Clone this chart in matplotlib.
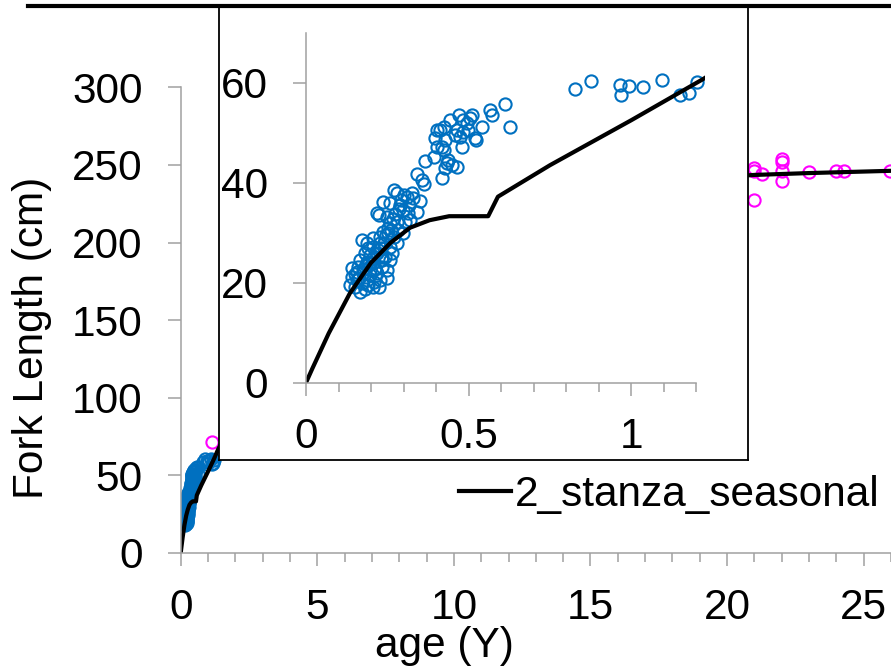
import matplotlib
matplotlib.use('Agg')
import matplotlib.pyplot as plt
from matplotlib.lines import Line2D
from matplotlib.ticker import MultipleLocator

plt.rcParams['font.family'] = ['Liberation Sans', 'DejaVu Sans']
plt.rcParams['font.size'] = 30.5

# juvenile fish (age in years, fork length in cm)
juv_age = [0.612, 0.628, 0.566, 0.571, 0.541, 0.510, 0.505, 0.469, 0.443, 0.484,
           0.494, 0.520, 0.523, 0.474, 0.458, 0.464, 0.484, 0.499, 0.423, 0.412,
           0.402, 0.397, 0.428, 0.417, 0.402, 0.423, 0.479, 0.464, 0.448, 0.433,
           0.428, 0.438, 0.392, 0.366, 0.341, 0.356, 0.364, 0.417,
           0.269, 0.279, 0.310, 0.330, 0.351, 0.238, 0.258, 0.289, 0.217, 0.223,
           0.248, 0.299, 0.315, 0.341, 0.258, 0.279, 0.305, 0.320, 0.299, 0.284,
           0.269, 0.253, 0.238, 0.228, 0.207, 0.171, 0.187, 0.207, 0.228, 0.258,
           0.279, 0.182, 0.197, 0.217, 0.243, 0.258, 0.166, 0.187, 0.207, 0.233,
           0.248, 0.141, 0.156, 0.176, 0.197, 0.217, 0.248, 0.141, 0.156, 0.171,
           0.192, 0.207, 0.223, 0.151, 0.166, 0.135, 0.187, 0.228, 0.233, 0.197,
           0.161,
           0.150, 0.162, 0.175, 0.183, 0.195, 0.205, 0.212, 0.222, 0.230, 0.240,
           0.246, 0.252, 0.262, 0.268, 0.275, 0.285, 0.292, 0.300, 0.318, 0.325,
           0.210, 0.180, 0.235, 0.190, 0.265,
           0.826, 0.876, 0.966, 0.992, 0.968, 1.035, 1.094, 1.149, 1.176, 1.202]
juv_len = [55.7, 51.2, 54.5, 53.5, 51.1, 53.5, 52.9, 53.5, 52.5, 52.5,
           51.9, 48.9, 48.5, 49.2, 49.5, 50.5, 50.2, 50.5, 51.2, 50.5,
           50.5, 48.9, 48.5, 47.2, 47.2, 46.5, 47.2, 43.2, 43.5, 43.9,
           42.9, 44.5, 45.2, 44.4, 41.7, 40.5, 39.7, 40.9,
           38.5, 37.9, 37.2, 36.9, 36.3, 36.2, 35.9, 35.5, 33.9, 33.5,
           33.2, 34.5, 33.9, 34.2, 31.9, 32.2, 32.2, 32.5, 29.9, 30.5,
           29.2, 29.9, 30.2, 29.2, 28.9, 28.5, 27.9, 27.2, 27.9, 27.2,
           27.9, 25.9, 25.5, 25.9, 25.2, 24.5, 24.5, 24.2, 23.9, 23.2,
           22.5, 22.9, 22.2, 21.9, 21.5, 21.9, 20.9, 21.2, 20.5, 19.9,
           19.5, 19.2, 19.2, 19.2, 18.2, 19.5, 20.5, 20.5, 24.5, 22.5,
           23.2,
           21.8, 20.9, 22.8, 23.5, 24.0, 25.0, 23.0, 26.5, 27.0, 28.0,
           29.5, 31.0, 30.5, 32.8, 33.8, 34.8, 36.5, 37.5, 35.5, 38.0,
           20.2, 18.8, 25.2, 27.0, 26.0,
           58.7, 60.3, 59.5, 59.3, 57.5, 59.1, 60.5, 57.5, 57.9, 60.2]

# adult fish
adult_age = [1.13, 20.98, 20.98, 20.98, 21.27, 22.0, 22.0, 22.0, 22.0,
             22.99, 23.98, 24.27, 25.95]
adult_len = [71.7, 248.3, 246.2, 227.5, 244.0, 253.7, 251.7, 246.4, 239.5,
             245.3, 246.3, 246.3, 246.3]

# fitted growth curve, 2 stanza seasonal model
fit_age = [0, 0.02, 0.07, 0.135, 0.2, 0.26, 0.32, 0.38, 0.44, 0.56, 0.59,
           0.75, 1.0, 1.22, 1.37, 2, 3, 4, 5, 6, 8, 10, 12, 14, 16, 18,
           20, 21, 23, 26.5]
fit_len = [0, 2.9, 9.9, 17.9, 24.0, 28.0, 31.0, 32.5, 33.3, 33.3, 37.2,
           43.5, 52.5, 60.7, 66.8, 88, 115, 137, 155, 170, 192, 208, 220,
           229, 235, 239, 242.5, 243.6, 244.8, 246.5]

W, H = 891, 668
BLUE = '#0070C0'
PINK = '#FF00FF'
GREY = '#A0A0A0'

fig = plt.figure(figsize=(W / 100, H / 100), dpi=100)


def style_axis(ax):
    for s in ('top', 'right'):
        ax.spines[s].set_visible(False)
    for s in ('left', 'bottom'):
        ax.spines[s].set_color(GREY)
        ax.spines[s].set_linewidth(1.1)
    ax.tick_params(which='both', direction='out', color=GREY, width=1.1)
    ax.tick_params(axis='y', which='major', length=9.5, pad=18)
    ax.tick_params(axis='x', which='major', length=9, pad=16)
    ax.tick_params(axis='x', which='minor', length=6.3)


mk = dict(marker='o', ls='none', mfc='none', ms=8.8, mew=1.5)

# main panel
ax = fig.add_axes([180.7 / W, 1 - 553 / H, (W - 180.7) / W, (553 - 87.4) / H])
ax.plot(juv_age, juv_len, color=BLUE, **mk)
ax.plot(adult_age, adult_len, color=PINK, **mk)
ax.plot(fit_age, fit_len, color='black', lw=3, label='2_stanza_seasonal')
ax.set_xlim(0, 26.0)
ax.set_ylim(0, 300)
ax.set_yticks(range(0, 301, 50))
ax.set_xticks(range(0, 26, 5))
ax.xaxis.set_minor_locator(MultipleLocator(1))
style_axis(ax)
ax.legend(loc='center left', bbox_to_anchor=(459 / W, 1 - 495 / H),
          bbox_transform=fig.transFigure, frameon=False, borderpad=0,
          borderaxespad=0, handlelength=1.22, handletextpad=0.1)

fig.text(444.5 / W, 1 - 657 / H, 'age (Y)', ha='center', va='baseline')
fig.text(43 / W, 1 - 338 / H, 'Fork Length (cm)', rotation=90,
         rotation_mode='anchor', ha='center', va='baseline')

# frame of the zoomed panel
box = fig.add_axes([218.5 / W, 1 - 459.5 / H, 529.5 / W, 454.5 / H])
box.set_xticks([])
box.set_yticks([])
for s in box.spines.values():
    s.set_color('black')
    s.set_linewidth(1.3)
box.set_facecolor('white')

# zoomed panel: first year of life; the fit runs a little past the last tick
ins = fig.add_axes([306 / W, 1 - 382.7 / H, 398.5 / W, 350 / H])
ins.patch.set_alpha(0)
ins.plot(juv_age, juv_len, color=BLUE, **mk)
ins.plot(fit_age, fit_len, color='black', lw=3)
ins.set_xlim(0, 1.225)
ins.set_ylim(0, 70)
ins.set_yticks([0, 20, 40, 60])
ins.set_xticks([0, 0.5, 1])
ins.set_xticklabels(['0', '0.5', '1'])
ins.xaxis.set_minor_locator(MultipleLocator(0.1))
ins.xaxis.set_minor_formatter('')
style_axis(ins)
ins.spines['bottom'].set_bounds(0, 1.2)
for t in ins.xaxis.get_minor_ticks():
    if t.get_loc() > 1.2001:
        t.set_visible(False)

fig.add_artist(Line2D([28 / W, 1], [1 - 6 / H] * 2, transform=fig.transFigure,
                      color='black', lw=3))

fig.savefig('out.png', dpi=100)
